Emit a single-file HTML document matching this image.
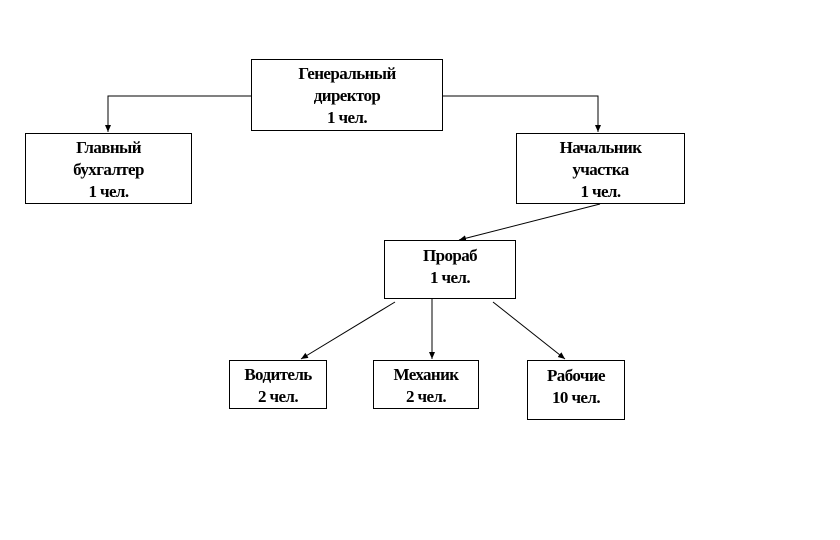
<!DOCTYPE html><html><head><meta charset="utf-8"><style>
body{margin:0;width:840px;height:540px;background:#fff;position:relative;overflow:hidden}
.b{position:absolute;border:1px solid #000;box-sizing:border-box;text-align:center;font:bold 17px/22px "Liberation Serif","DejaVu Serif",serif;letter-spacing:-0.6px;background:#fff}
</style></head><body>
<svg width="840" height="540" style="position:absolute;left:0;top:0">
<defs><marker id="a" markerWidth="8" markerHeight="8" refX="7" refY="4" orient="auto"><path d="M0,1 L7,4 L0,7z"/></marker></defs>
<g stroke="#000" stroke-width="1" fill="none">
<polyline points="251,96 108,96 108,132" marker-end="url(#a)"/>
<polyline points="443,96 598,96 598,132" marker-end="url(#a)"/>
<line x1="600" y1="204" x2="459" y2="240" marker-end="url(#a)"/>
<line x1="395" y1="302" x2="301" y2="359" marker-end="url(#a)"/>
<line x1="432" y1="299" x2="432" y2="359" marker-end="url(#a)"/>
<line x1="493" y1="302" x2="565" y2="359" marker-end="url(#a)"/>
</g></svg>
<div class="b" style="left:251px;top:59px;width:192px;height:72px;padding-top:3px">Генеральный<br>директор<br>1 чел.</div>
<div class="b" style="left:25px;top:133px;width:167px;height:71px;padding-top:3px">Главный<br>бухгалтер<br>1 чел.</div>
<div class="b" style="left:516px;top:133px;width:169px;height:71px;padding-top:3px">Начальник<br>участка<br>1 чел.</div>
<div class="b" style="left:384px;top:240px;width:132px;height:59px;padding-top:4px">Прораб<br>1 чел.</div>
<div class="b" style="left:229px;top:360px;width:98px;height:49px;padding-top:3px">Водитель<br>2 чел.</div>
<div class="b" style="left:373px;top:360px;width:106px;height:49px;padding-top:3px">Механик<br>2 чел.</div>
<div class="b" style="left:527px;top:360px;width:98px;height:60px;padding-top:4px">Рабочие<br>10 чел.</div>
</body></html>
